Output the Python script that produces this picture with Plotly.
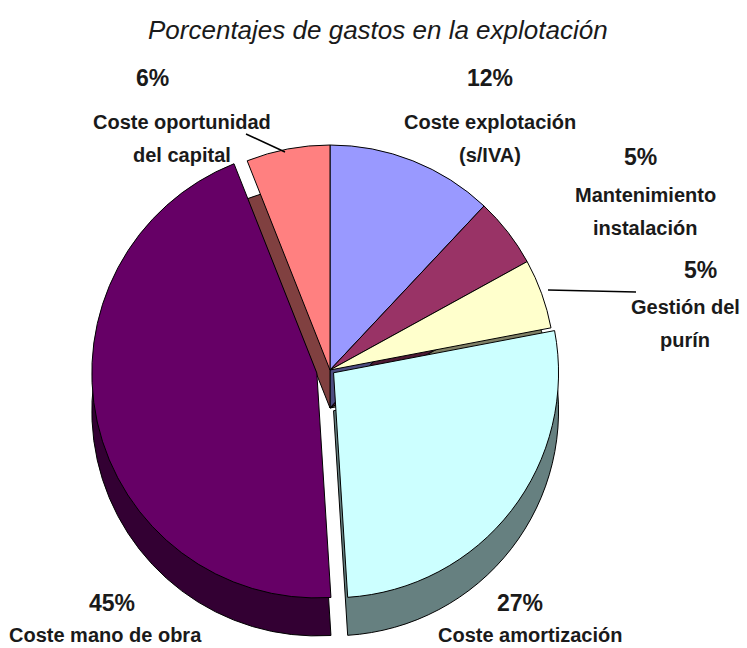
import plotly.graph_objects as go

categories = ["Coste explotación (s/IVA)", "Mantenimiento instalación", "Gestión del purín",
              "Coste amortización", "Coste mano de obra", "Coste oportunidad del capital"]
values = [12, 5, 5, 27, 45, 6]
pct_labels = ["12%", "5%", "5%", "27%", "45%", "6%"]
label_lines = [["Coste explotación", "(s/IVA)"], ["Mantenimiento", "instalación"],
               ["Gestión del", "purín"], ["Coste amortización"], ["Coste mano de obra"],
               ["Coste oportunidad", "del capital"]]
top_colors = ["#9999FF", "#993366", "#FFFFCC", "#CCFFFF", "#660066", "#FF8080"]
side_colors = ["#4D4D80", "#4D1A33", "#808066", "#668080", "#330033", "#804040"]
pulls = [0, 0, 0, 0.02, 0.06, 0]

W, H = 747, 648
FONT = "Liberation Sans Narrow, Arial Narrow, Liberation Sans, Arial"

def px(x):
    return x / W

def py(y):
    return 1 - y / H

cx, cy, r = 330, 370, 225
half = r * (1 + max(pulls))
depth = 38

fig = go.Figure()
fig.add_trace(go.Pie(labels=categories, values=values, sort=False, direction="clockwise",
                     rotation=0, pull=pulls, textinfo="none", hoverinfo="label+percent",
                     marker=dict(colors=side_colors, line=dict(color="black", width=1)),
                     domain=dict(x=[px(cx - half), px(cx + half)],
                                 y=[py(cy + depth + half), py(cy + depth - half)]),
                     showlegend=False))
fig.add_trace(go.Pie(labels=categories, values=values, sort=False, direction="clockwise",
                     rotation=0, pull=pulls, textinfo="none", hoverinfo="label+percent",
                     marker=dict(colors=top_colors, line=dict(color="black", width=1)),
                     domain=dict(x=[px(cx - half), px(cx + half)],
                                 y=[py(cy + half), py(cy - half)]),
                     showlegend=False))

# label positions (pixel centers): percentage, then text lines
pct_pos = [(490, 78), (640, 157), (700, 270), (520, 603), (112, 603), (152, 78)]
text_pos = [(490, 122), (645, 195), (685, 307), (530, 635), (105, 635), (182, 122)]
line_gap = 33

annotations = [dict(text="<i>Porcentajes de gastos en la explotación</i>", x=px(378), y=py(30),
                    xref="paper", yref="paper", showarrow=False,
                    xanchor="center", yanchor="middle",
                    font=dict(family=FONT, size=26, color="#1a1a1a"))]
for i in range(len(values)):
    annotations.append(dict(text="<b>" + pct_labels[i] + "</b>", x=px(pct_pos[i][0]),
                            y=py(pct_pos[i][1]), xref="paper", yref="paper", showarrow=False,
                            xanchor="center", yanchor="middle",
                            font=dict(family=FONT, size=23, color="#1a1a1a")))
    for j, line in enumerate(label_lines[i]):
        annotations.append(dict(text="<b>" + line + "</b>", x=px(text_pos[i][0]),
                                y=py(text_pos[i][1] + j * line_gap), xref="paper", yref="paper",
                                showarrow=False, xanchor="center", yanchor="middle",
                                font=dict(family=FONT, size=20, color="#1a1a1a")))

shapes = [
    dict(type="line", xref="paper", yref="paper", x0=px(246), y0=py(134), x1=px(285), y1=py(152),
         line=dict(color="black", width=1.5)),
    dict(type="line", xref="paper", yref="paper", x0=px(548), y0=py(290), x1=px(636), y1=py(292),
         line=dict(color="black", width=1.5)),
]

fig.update_layout(width=W, height=H, margin=dict(l=0, r=0, t=0, b=0),
                  paper_bgcolor="white", plot_bgcolor="white",
                  annotations=annotations, shapes=shapes)

fig.write_html("out.html", post_script="document.body.style.margin='0';",
               config={"displayModeBar": False})
